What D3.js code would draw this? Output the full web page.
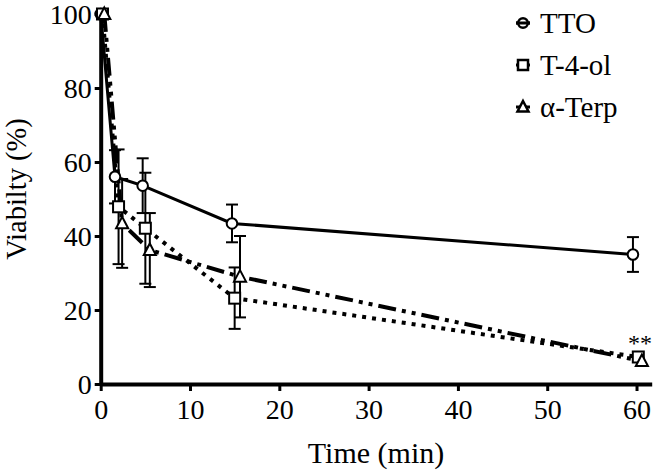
<!DOCTYPE html>
<html><head><meta charset="utf-8">
<script src="https://cdn.jsdelivr.net/npm/d3@7"></script>
<style>
body{margin:0;background:#fff;}
svg{display:block;font-family:"Liberation Serif","Times New Roman",Times,serif;}
text{fill:#000;}
</style></head>
<body><svg id="c" width="661" height="473"></svg>
<script>
const seriesNames = ["TTO", "T-4-ol", "\u03b1-Terp"];
const ttoTime = [0, 1.6, 4.7, 14.7, 59.6];
const ttoVal  = [100, 56, 53.6, 43.4, 35];
const ttoErr  = [0, 7.2, 7.4, 5.1, 4.7];
const t4Time = [0.2, 2.0, 5.0, 15.0, 60.2];
const t4Val  = [100, 47.9, 42.1, 23.2, 7.3];
const t4Err  = [0, 15.5, 15, 8.3, 0];
const atTime = [0.4, 2.4, 5.5, 15.6, 60.6];
const atVal  = [100, 43.4, 36.2, 29, 6.2];
const atErr  = [0, 12, 10, 11, 0];
const xTicks = [0, 10, 20, 30, 40, 50, 60];
const yTicks = [0, 20, 40, 60, 80, 100];
const xTitle = "Time (min)";
const yTitle = "Viabilty (%)";
const sigLabel = "**";

const svg = d3.select("#c");
const x = d3.scaleLinear().domain([0, 61.7]).range([100.7, 651.7]);
const y = d3.scaleLinear().domain([0, 100]).range([384, 14]);

function mk(t, v, e){ return t.map((d,i)=>({t:d, v:v[i], e:e[i]})); }
const series = [
  {name:seriesNames[0], data:mk(ttoTime,ttoVal,ttoErr), dash:null, shape:"circle"},
  {name:seriesNames[1], data:mk(t4Time,t4Val,t4Err), dash:"4,6", shape:"square"},
  {name:seriesNames[2], data:mk(atTime,atVal,atErr), dash:"18,6,4,6,4,6", shape:"triangle"}
];

const FONT = '"Liberation Serif","Times New Roman",Times,serif';
const xAxis = d3.axisBottom(x).tickValues(xTicks).tickSize(7).tickPadding(4).tickSizeOuter(0);
const yAxis = d3.axisLeft(y).tickValues(yTicks).tickSize(6).tickPadding(3).tickSizeOuter(0);
const gx = svg.append("g").attr("transform","translate(0,384)").call(xAxis);
const gy = svg.append("g").attr("transform","translate(100.7,0)").call(yAxis);
[gx, gy].forEach(g=>{
  g.attr("font-family", FONT).attr("font-size", 28);
  g.select(".domain").attr("stroke","#000").attr("stroke-width",4);
  g.selectAll(".tick line").attr("stroke","#000").attr("stroke-width",3);
  g.selectAll(".tick text").attr("fill","#000");
});
gx.selectAll(".tick text").attr("dy","0.85em");
gy.selectAll(".tick text").attr("dy","0.33em");

svg.append("text").attr("x",376).attr("y",463).attr("text-anchor","middle")
  .attr("font-family",FONT).attr("font-size",30).text(xTitle);
svg.append("text").attr("transform","translate(26,189) rotate(-90)").attr("text-anchor","middle")
  .attr("font-family",FONT).attr("font-size",28.5).text(yTitle);

const plot = svg.append("g");
const line = d3.line().x(d=>x(d.t)).y(d=>y(d.v));

series.forEach(s=>{
  s.data.filter(d=>d.e>0).forEach(d=>{
    const g = plot.append("g").attr("stroke","#000").attr("stroke-width",2);
    g.append("line").attr("x1",x(d.t)).attr("x2",x(d.t)).attr("y1",y(d.v+d.e)).attr("y2",y(d.v-d.e));
    [d.v+d.e, d.v-d.e].forEach(vv=>g.append("line").attr("x1",x(d.t)-6).attr("x2",x(d.t)+6).attr("y1",y(vv)).attr("y2",y(vv)));
  });
});
series.forEach(s=>{
  plot.append("path").datum(s.data).attr("d",line).attr("fill","none").attr("stroke","#000")
    .attr("stroke-width", s.dash ? 4 : 3).attr("stroke-dasharray", s.dash);
});
function marker(g, shape, cx, cy, sz){
  if(shape==="circle") g.append("circle").attr("cx",cx).attr("cy",cy).attr("r",sz*0.48);
  else if(shape==="square") g.append("rect").attr("x",cx-sz/2).attr("y",cy-sz/2).attr("width",sz).attr("height",sz);
  else g.append("path").attr("d",`M${cx},${cy-sz*0.6}L${cx+sz*0.55},${cy+sz*0.45}L${cx-sz*0.55},${cy+sz*0.45}Z`);
}
series.forEach(s=>{
  const g = plot.append("g").attr("fill","#fff").attr("stroke","#000").attr("stroke-width",2);
  s.data.forEach(d=>marker(g, s.shape, x(d.t), y(d.v), 11));
});

svg.append("text").attr("x",640).attr("y",351).attr("text-anchor","middle")
  .attr("font-family",FONT).attr("font-size",24).style("fill","#000").text(sigLabel);

const leg = svg.append("g");
series.forEach((s,i)=>{
  const cy = 23 + i*42;
  const g = leg.append("g").attr("fill","#fff").attr("stroke","#000").attr("stroke-width",2.5);
  g.append("line").attr("x1",516).attr("x2",530).attr("y1",cy).attr("y2",cy).attr("stroke-width",3);
  marker(g, s.shape, 523, cy, 10);
  if(s.shape==="circle") g.append("line").attr("x1",516).attr("x2",530).attr("y1",cy).attr("y2",cy).attr("stroke-width",3);
  leg.append("text").attr("x",540).attr("y",cy).attr("dy","0.35em")
    .attr("font-family",FONT).attr("font-size",29).attr("fill","#000").text(s.name);
});
</script></body></html>
